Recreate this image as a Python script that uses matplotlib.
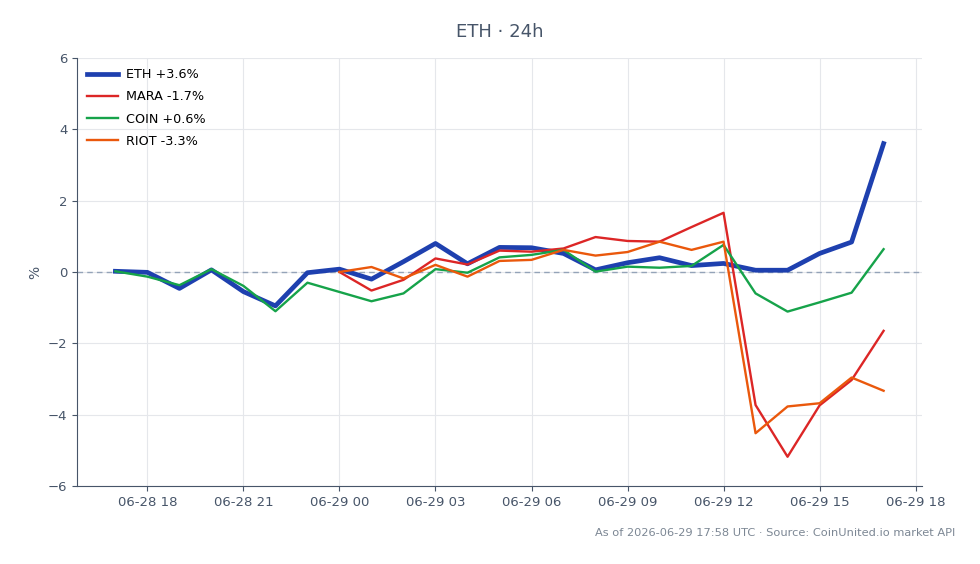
import matplotlib
matplotlib.use("Agg")
import matplotlib.pyplot as plt
import matplotlib.dates as mdates
import numpy as np
import pandas as pd

# hourly closes, 06-28 17:00 -> 06-29 17:00 UTC, % change vs start
times = pd.date_range("2026-06-28 17:00", periods=25, freq="h")

eth = [0.02, -0.01, -0.46, 0.06, -0.55, -0.95, -0.02, 0.08, -0.20, 0.29, 0.80, 0.23,
       0.69, 0.68, 0.52, 0.06, 0.26, 0.40, 0.18, 0.24, 0.05, 0.05, 0.52, 0.84, 3.60]
coin = [0.02, -0.13, -0.37, 0.08, -0.39, -1.10, -0.30, -0.56, -0.82, -0.60, 0.08, -0.02,
        0.41, 0.48, 0.62, 0.01, 0.15, 0.12, 0.17, 0.76, -0.60, -1.11, -0.85, -0.58, 0.64]
nan = np.nan
mara = [nan] * 7 + [0.0, -0.52, -0.22, 0.38, 0.21, 0.60, 0.57, 0.66, 0.98, 0.87,
                    0.85, 1.26, 1.66, -3.73, -5.18, -3.74, -3.03, -1.65]
riot = [nan] * 7 + [0.0, 0.14, -0.18, 0.20, -0.13, 0.31, 0.34, 0.62, 0.46, 0.56,
                    0.85, 0.62, 0.85, -4.52, -3.77, -3.68, -2.96, -3.33]

series = [
    ("ETH +3.6%", eth, "#1e40af", 3.4),
    ("MARA -1.7%", mara, "#dc2626", 1.7),
    ("COIN +0.6%", coin, "#16a34a", 1.7),
    ("RIOT -3.3%", riot, "#ea580c", 1.7),
]

text_col = "#475569"

fig = plt.figure(figsize=(9.8, 5.64), dpi=100)
ax = fig.add_axes([77 / 980, 1 - 486 / 564, (922 - 77) / 980, (486 - 58) / 564])

for label, vals, col, lw in series:
    ax.plot(times, vals, color=col, lw=lw, label=label)

ax.axhline(0, color="#94a3b8", lw=1.0, ls=(0, (4, 3)), zorder=1)

ax.set_ylim(-6, 6)
ax.set_yticks(range(-6, 7, 2))
ax.set_ylabel("%", color=text_col, fontsize=10)
ax.xaxis.set_major_locator(mdates.HourLocator(byhour=range(0, 24, 3)))
ax.xaxis.set_major_formatter(mdates.DateFormatter("%m-%d %H"))

ax.grid(True, color="#e5e7eb", lw=0.8)
ax.set_axisbelow(True)
for s in ("top", "right"):
    ax.spines[s].set_visible(False)
for s in ("left", "bottom"):
    ax.spines[s].set_color(text_col)
ax.tick_params(colors=text_col, labelsize=9.5)

ax.legend(loc="upper left", frameon=False, fontsize=9.2, handlelength=2.4,
          handletextpad=0.6, labelspacing=0.72, borderaxespad=0.4)

fig.suptitle("ETH \u00b7 24h", x=(77 + 922) / 2 / 980, y=1 - 32 / 564, va="center",
             color=text_col, fontsize=13)
fig.text(955 / 980, 1 - 533 / 564,
         "As of 2026-06-29 17:58 UTC \u00b7 Source: CoinUnited.io market API",
         ha="right", va="center", color="#7c8794", fontsize=8.2)

fig.savefig("out.png", dpi=100)
